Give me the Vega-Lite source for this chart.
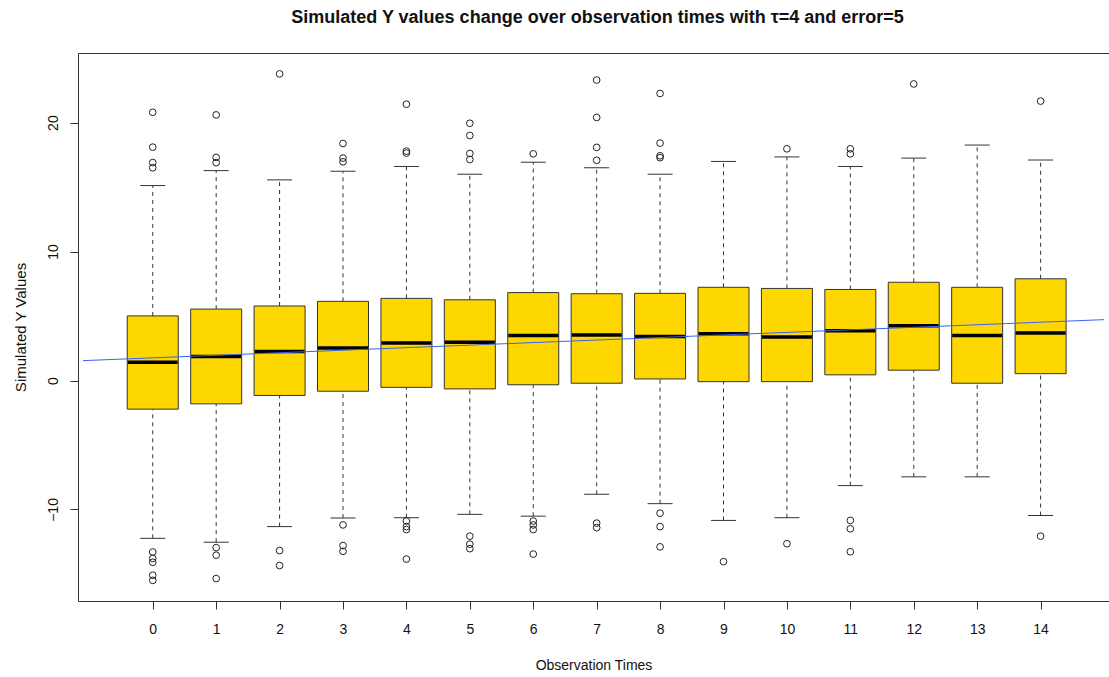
{
  "$schema": "https://vega.github.io/schema/vega-lite/v6.json",
  "autosize": {"type": "none"},
  "width": 1031,
  "height": 548,
  "padding": {"left": 78, "top": 53, "right": 0, "bottom": 76},
  "background": "white",
  "config": {
    "font": "Liberation Sans",
    "view": {"stroke": null},
    "axis": {"grid": false, "domainColor": "#333", "tickColor": "#333", "labelColor": "#111", "titleColor": "#111", "labelFont": "Liberation Sans", "titleFont": "Liberation Sans", "titleFontWeight": "normal", "labelFontSize": 14, "titleFontSize": 14, "tickSize": 8}
  },
  "title": {"text": "Simulated Y values change over observation times with τ=4 and error=5", "fontSize": 18, "fontWeight": "bold", "font": "Liberation Sans", "color": "#111", "anchor": "middle", "offset": 26, "dx": 4},
  "datasets": {
    "boxes": [
      {"t": 0, "lo": -12.24, "q1": -2.22, "med": 1.42, "q3": 5.01, "hi": 15.12},
      {"t": 1, "lo": -12.54, "q1": -1.81, "med": 1.87, "q3": 5.54, "hi": 16.28},
      {"t": 2, "lo": -11.33, "q1": -1.16, "med": 2.25, "q3": 5.78, "hi": 15.56},
      {"t": 3, "lo": -10.67, "q1": -0.83, "med": 2.52, "q3": 6.14, "hi": 16.22},
      {"t": 4, "lo": -10.64, "q1": -0.53, "med": 2.9, "q3": 6.37, "hi": 16.6},
      {"t": 5, "lo": -10.38, "q1": -0.65, "med": 2.96, "q3": 6.26, "hi": 16.0},
      {"t": 6, "lo": -10.52, "q1": -0.33, "med": 3.5, "q3": 6.82, "hi": 16.93},
      {"t": 7, "lo": -8.83, "q1": -0.21, "med": 3.53, "q3": 6.73, "hi": 16.51},
      {"t": 8, "lo": -9.55, "q1": 0.12, "med": 3.41, "q3": 6.76, "hi": 16.0},
      {"t": 9, "lo": -10.85, "q1": -0.09, "med": 3.62, "q3": 7.23, "hi": 16.99},
      {"t": 10, "lo": -10.64, "q1": -0.09, "med": 3.38, "q3": 7.14, "hi": 17.34},
      {"t": 11, "lo": -8.15, "q1": 0.44, "med": 3.85, "q3": 7.06, "hi": 16.6},
      {"t": 12, "lo": -7.47, "q1": 0.8, "med": 4.24, "q3": 7.62, "hi": 17.25},
      {"t": 13, "lo": -7.47, "q1": -0.21, "med": 3.5, "q3": 7.23, "hi": 18.26},
      {"t": 14, "lo": -10.47, "q1": 0.53, "med": 3.68, "q3": 7.89, "hi": 17.1}
    ],
    "outliers": [
      {"t": 0, "y": 20.8}, {"t": 0, "y": 18.1}, {"t": 0, "y": 16.9}, {"t": 0, "y": 16.5},
      {"t": 0, "y": -13.3}, {"t": 0, "y": -13.8}, {"t": 0, "y": -14.1}, {"t": 0, "y": -15.1}, {"t": 0, "y": -15.5},
      {"t": 1, "y": 20.6}, {"t": 1, "y": 17.3}, {"t": 1, "y": 16.9},
      {"t": 1, "y": -12.96}, {"t": 1, "y": -13.55}, {"t": 1, "y": -15.36},
      {"t": 2, "y": 23.78}, {"t": 2, "y": -13.19}, {"t": 2, "y": -14.35},
      {"t": 3, "y": 18.38}, {"t": 3, "y": 17.25}, {"t": 3, "y": 16.96},
      {"t": 3, "y": -11.2}, {"t": 3, "y": -12.8}, {"t": 3, "y": -13.25},
      {"t": 4, "y": 21.43}, {"t": 4, "y": 17.79}, {"t": 4, "y": 17.64},
      {"t": 4, "y": -10.9}, {"t": 4, "y": -11.33}, {"t": 4, "y": -11.56}, {"t": 4, "y": -13.85},
      {"t": 5, "y": 19.95}, {"t": 5, "y": 19.0}, {"t": 5, "y": 17.61}, {"t": 5, "y": 17.14},
      {"t": 5, "y": -12.07}, {"t": 5, "y": -12.69}, {"t": 5, "y": -13.04},
      {"t": 6, "y": 17.58},
      {"t": 6, "y": -10.9}, {"t": 6, "y": -11.2}, {"t": 6, "y": -11.56}, {"t": 6, "y": -13.46},
      {"t": 7, "y": 23.3}, {"t": 7, "y": 20.4}, {"t": 7, "y": 18.08}, {"t": 7, "y": 17.08},
      {"t": 7, "y": -11.06}, {"t": 7, "y": -11.41},
      {"t": 8, "y": 22.26}, {"t": 8, "y": 18.41}, {"t": 8, "y": 17.43}, {"t": 8, "y": 17.28},
      {"t": 8, "y": -10.29}, {"t": 8, "y": -11.33}, {"t": 8, "y": -12.9},
      {"t": 9, "y": -14.05},
      {"t": 10, "y": 17.97}, {"t": 10, "y": -12.66},
      {"t": 11, "y": 17.97}, {"t": 11, "y": 17.58},
      {"t": 11, "y": -10.85}, {"t": 11, "y": -11.5}, {"t": 11, "y": -13.28},
      {"t": 12, "y": 23.0},
      {"t": 14, "y": 21.67}, {"t": 14, "y": -12.07}
    ],
    "fit": [
      {"t": -1.1, "fit": 1.54},
      {"t": 15.0, "fit": 4.72}
    ]
  },
  "resolve": {"axis": {"x": "independent"}},
  "layer": [
    {
      "data": {"name": "boxes"},
      "mark": {"type": "rule", "strokeDash": [4, 4], "color": "#333", "strokeWidth": 1},
      "encoding": {
        "x": {"field": "t", "type": "quantitative", "scale": {"domain": [-1.1, 15.0], "nice": false, "zero": false},
              "axis": {"orient": "bottom", "values": [0,1,2,3,4,5,6,7,8,9,10,11,12,13,14], "format": "d", "title": "Observation Times", "labelPadding": 13, "titlePadding": 22}},
        "y": {"field": "lo", "type": "quantitative", "title": "Simulated Y Values", "scale": {"domain": [-17.1, 25.4], "nice": false, "zero": false},
              "axis": {"values": [-10, 0, 10, 20], "labelAngle": -90, "labelPadding": 10, "titlePadding": 18, "titleFontSize": 15, "format": "d"}},
        "y2": {"field": "q1"}
      }
    },
    {
      "data": {"name": "boxes"},
      "mark": {"type": "rule", "strokeDash": [4, 4], "color": "#333", "strokeWidth": 1},
      "encoding": {
        "x": {"field": "t", "type": "quantitative", "axis": null},
        "y": {"field": "q3", "type": "quantitative", "title": "Simulated Y Values"},
        "y2": {"field": "hi"}
      }
    },
    {
      "data": {"name": "boxes"},
      "mark": {"type": "tick", "orient": "horizontal", "size": 25, "thickness": 1, "color": "#333", "opacity": 1},
      "encoding": {
        "x": {"field": "t", "type": "quantitative", "axis": null},
        "y": {"field": "lo", "type": "quantitative", "title": "Simulated Y Values"}
      }
    },
    {
      "data": {"name": "boxes"},
      "mark": {"type": "tick", "orient": "horizontal", "size": 25, "thickness": 1, "color": "#333", "opacity": 1},
      "encoding": {
        "x": {"field": "t", "type": "quantitative", "axis": null},
        "y": {"field": "hi", "type": "quantitative", "title": "Simulated Y Values"}
      }
    },
    {
      "data": {"name": "boxes"},
      "mark": {"type": "bar", "width": 51, "fill": "#FFD700", "stroke": "#333", "strokeWidth": 1, "opacity": 1},
      "encoding": {
        "x": {"field": "t", "type": "quantitative", "axis": null},
        "y": {"field": "q1", "type": "quantitative", "title": "Simulated Y Values"},
        "y2": {"field": "q3"}
      }
    },
    {
      "data": {"name": "boxes"},
      "mark": {"type": "tick", "orient": "horizontal", "size": 50, "thickness": 3.5, "color": "#000", "opacity": 1},
      "encoding": {
        "x": {"field": "t", "type": "quantitative", "axis": null},
        "y": {"field": "med", "type": "quantitative", "title": "Simulated Y Values"}
      }
    },
    {
      "data": {"name": "fit"},
      "mark": {"type": "line", "color": "#3A62F0", "strokeWidth": 1, "clip": true},
      "encoding": {
        "x": {"field": "t", "type": "quantitative",
              "axis": {"orient": "top", "labels": false, "ticks": false, "title": null, "values": []}},
        "y": {"field": "fit", "type": "quantitative", "title": "Simulated Y Values"}
      }
    },
    {
      "data": {"name": "outliers"},
      "mark": {"type": "point", "shape": "circle", "filled": false, "size": 45, "color": "#222", "strokeWidth": 1, "opacity": 1},
      "encoding": {
        "x": {"field": "t", "type": "quantitative", "axis": null},
        "y": {"field": "y", "type": "quantitative", "title": "Simulated Y Values"}
      }
    }
  ]
}
